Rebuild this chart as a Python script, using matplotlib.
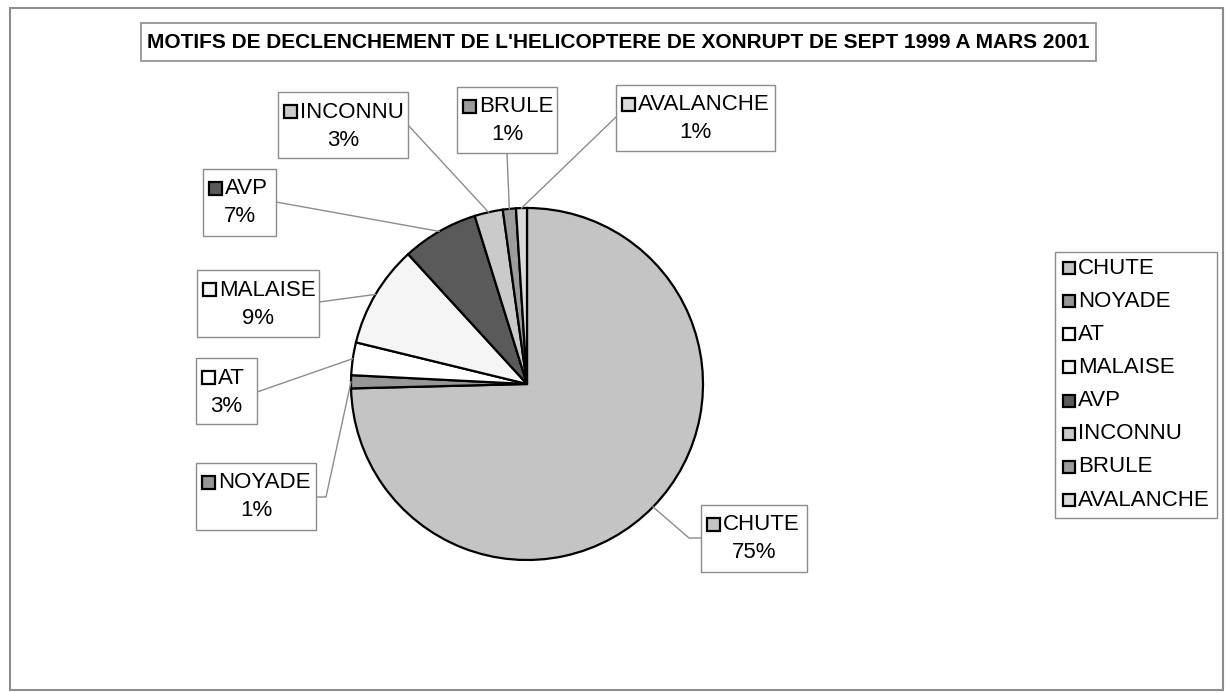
import numpy as np
import matplotlib
matplotlib.use("Agg")
import matplotlib.pyplot as plt
from matplotlib.patches import Rectangle

plt.rcParams['font.family'] = ['Liberation Sans', 'DejaVu Sans']

# donnees (en %)
categories = ['CHUTE', 'NOYADE', 'AT', 'MALAISE', 'AVP', 'INCONNU', 'BRULE', 'AVALANCHE']
valeurs = [74.6, 1.2, 3.0, 9.4, 7.0, 2.6, 1.2, 1.0]
couleurs = ['#c4c4c4', '#979797', '#ffffff', '#f5f5f5', '#5a5a5a', '#cacaca', '#9c9c9c', '#dadada']

W, H = 1228, 693
cx, cy, r = 527, 384, 176

# boites d'etiquettes (x0, y0, x1, y1), point d'attache du trait, coude eventuel
boites = {
    'CHUTE': ((701, 505, 807, 572), (701, 538), (689, 538)),
    'NOYADE': ((196, 463, 316, 530), (316, 497), (326, 497)),
    'AT': ((196, 358, 257, 424), (257, 392), None),
    'MALAISE': ((197, 270, 319, 337), (319, 302), None),
    'AVP': ((203, 169, 276, 236), (276, 202), None),
    'INCONNU': ((278, 92, 408, 158), (408, 125), None),
    'BRULE': ((457, 87, 557, 153), (507, 153), None),
    'AVALANCHE': ((616, 85, 775, 151), (616, 117), None),
}

fig = plt.figure(figsize=(W / 100, H / 100), dpi=100)
ax = fig.add_axes([0, 0, 1, 1])

wedges, _ = ax.pie(valeurs, colors=couleurs, center=(cx, cy), radius=r,
                   startangle=-90, counterclock=True,
                   wedgeprops=dict(edgecolor='black', linewidth=1.6))
ax.set_xlim(0, W)
ax.set_ylim(H, 0)
ax.set_aspect('auto')
ax.axis('off')

# cadre general
ax.add_patch(Rectangle((10, 8), 1213, 682, fill=False, edgecolor='#8c8c8c', lw=1.5))

# titre
ax.add_patch(Rectangle((141, 23), 955, 38, fill=False, edgecolor='#8c8c8c', lw=1.2))
ax.text(618, 42.5, "MOTIFS DE DECLENCHEMENT DE L'HELICOPTERE DE XONRUPT DE SEPT 1999 A MARS 2001",
        ha='center', va='center', fontsize=15, fontweight='bold')

total = sum(valeurs)
for w, nom, v, c in zip(wedges, categories, valeurs, couleurs):
    (x0, y0, x1, y1), ancre, coude = boites[nom]
    # trait de rappel vers le bord du secteur
    a = np.deg2rad((w.theta1 + w.theta2) / 2)
    px, py = cx + r * np.cos(a), cy + r * np.sin(a)
    xs, ys = [ancre[0]], [ancre[1]]
    if coude is not None:
        xs.append(coude[0]); ys.append(coude[1])
    xs.append(px); ys.append(py)
    ax.plot(xs, ys, color='#8c8c8c', lw=1.0, zorder=1)
    # boite
    ax.add_patch(Rectangle((x0, y0), x1 - x0, y1 - y0, facecolor='white',
                           edgecolor='#8c8c8c', lw=1.0, zorder=3))
    ax.add_patch(Rectangle((x0 + 6, y0 + 13), 13, 13, facecolor=c,
                           edgecolor='black', lw=1.6, zorder=4))
    ax.text(x0 + 22, y0 + 20, nom, ha='left', va='center', fontsize=16, zorder=5)
    ax.text((x0 + x1) / 2, y0 + 48, f"{v / total * 100:.0f}%", ha='center', va='center',
            fontsize=16, zorder=5)

# legende
ax.add_patch(Rectangle((1055, 252), 162, 266, fill=False, edgecolor='#8c8c8c', lw=1.0))
ys_leg = np.linspace(268, 500, len(categories))
for nom, c, yl in zip(categories, couleurs, ys_leg):
    ax.add_patch(Rectangle((1063, yl - 6), 12, 12, facecolor=c, edgecolor='black', lw=1.6))
    ax.text(1078, yl, nom, ha='left', va='center', fontsize=16)

fig.savefig('out.png', dpi=100)
